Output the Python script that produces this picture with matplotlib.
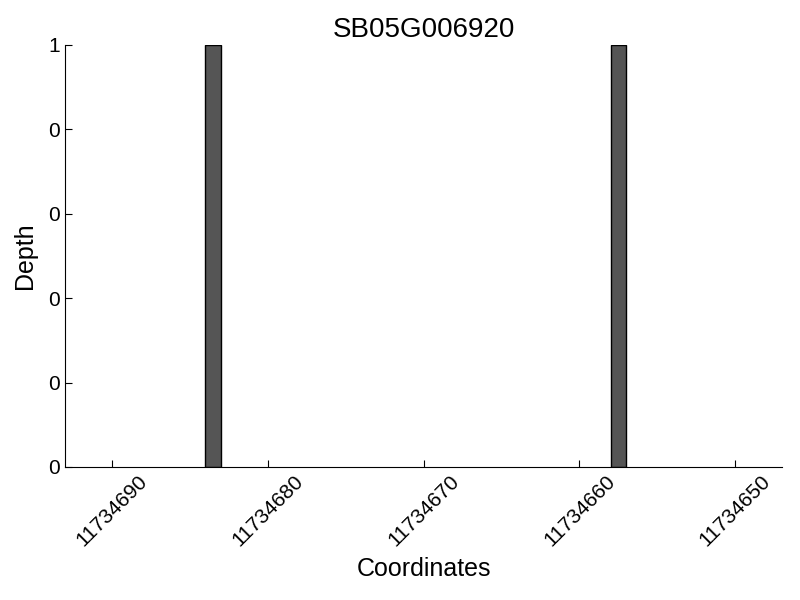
import matplotlib
matplotlib.use("Agg")
import matplotlib.pyplot as plt
from matplotlib.ticker import FormatStrFormatter

plt.rcParams['font.family'] = ['Liberation Sans', 'DejaVu Sans']

title = "SB05G006920"
positions = [11734683, 11734657]
depths = [1, 1]
x_ticks = [11734690, 11734680, 11734670, 11734660, 11734650]
y_ticks = [0, 0.2, 0.4, 0.6, 0.8, 1.0]

fig = plt.figure(figsize=(8, 6), dpi=100)
ax = fig.add_axes([0.08125, 0.2217, 0.8963, 0.7033])
ax.bar(positions, depths, width=1, align='edge', color='#555555',
       edgecolor='black', linewidth=1)
ax.set_xlim(11734693, 11734647)
ax.set_ylim(0, 1)
ax.set_xticks(x_ticks)
ax.set_xticklabels([str(t) for t in x_ticks], rotation=45, fontsize=15)
ax.set_yticks(y_ticks)
ax.yaxis.set_major_formatter(FormatStrFormatter('%d'))
ax.tick_params(axis='y', labelsize=15)
ax.tick_params(direction='in', length=5, top=False, right=False)
ax.spines['top'].set_visible(False)
ax.spines['right'].set_visible(False)
ax.set_xlabel("Coordinates", fontsize=18, labelpad=5)
ax.set_ylabel("Depth", fontsize=18, labelpad=8)
ax.set_title(title, fontsize=20)
fig.savefig("out.png", dpi=100)
